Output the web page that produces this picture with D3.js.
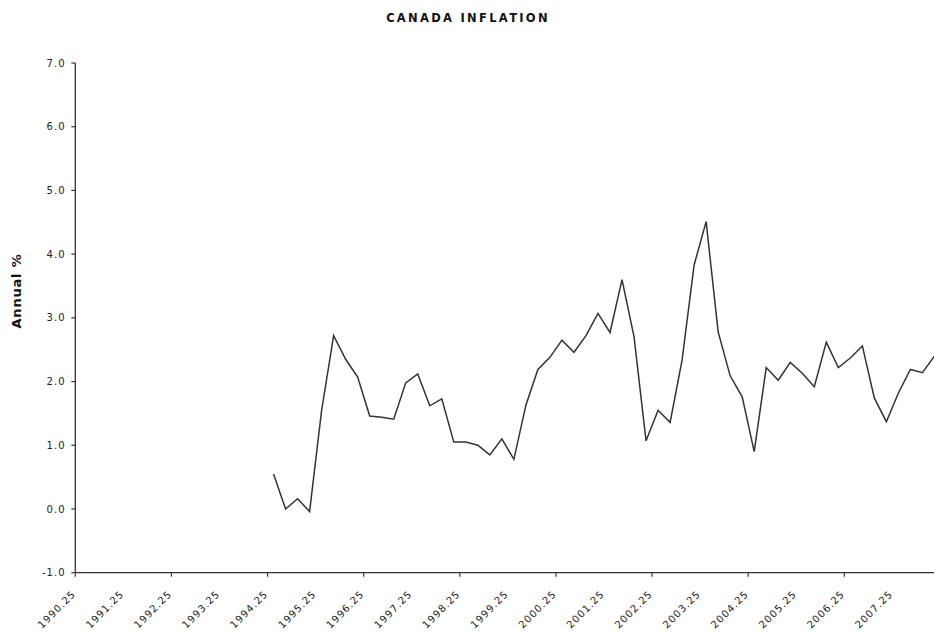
<!DOCTYPE html>
<html>
<head>
<meta charset="utf-8">
<script src="https://cdn.jsdelivr.net/npm/d3@7"></script>
<style>
  html, body { margin: 0; padding: 0; background: #fff; }
  svg { display: block; font-family: "DejaVu Sans", Verdana, sans-serif; }
</style>
</head>
<body>
<svg id="chart" width="934" height="635"></svg>
<script>
const title = "CANADA INFLATION";
const yTitle = "Annual %";

const categories = [
  "1990.25","1990.50","1990.75","1991.00","1991.25","1991.50","1991.75","1992.00",
  "1992.25","1992.50","1992.75","1993.00","1993.25","1993.50","1993.75","1994.00",
  "1994.25","1994.50","1994.75","1995.00","1995.25","1995.50","1995.75","1996.00",
  "1996.25","1996.50","1996.75","1997.00","1997.25","1997.50","1997.75","1998.00",
  "1998.25","1998.50","1998.75","1999.00","1999.25","1999.50","1999.75","2000.00",
  "2000.25","2000.50","2000.75","2001.00","2001.25","2001.50","2001.75","2002.00",
  "2002.25","2002.50","2002.75","2003.00","2003.25","2003.50","2003.75","2004.00",
  "2004.25","2004.50","2004.75","2005.00","2005.25","2005.50","2005.75","2006.00",
  "2006.25","2006.50","2006.75","2007.00","2007.25","2007.50","2007.75","2008.00"
];

const inflation = [
  null, null, null, null, null, null, null, null,
  null, null, null, null, null, null, null, null,
  0.55, 0.00, 0.16, -0.04, 1.55, 2.72, 2.35, 2.07,
  1.46, 1.44, 1.41, 1.98, 2.12, 1.62, 1.73, 1.05,
  1.05, 1.00, 0.85, 1.10, 0.78, 1.63, 2.19, 2.38,
  2.65, 2.46, 2.72, 3.07, 2.77, 3.60, 2.70, 1.07,
  1.55, 1.36, 2.34, 3.83, 4.51, 2.78, 2.09, 1.76,
  0.90, 2.22, 2.02, 2.30, 2.13, 1.92, 2.62, 2.22,
  2.37, 2.56, 1.74, 1.37, 1.82, 2.19, 2.14, 2.40
];

const yTicks = [-1, 0, 1, 2, 3, 4, 5, 6, 7];
const labelEvery = 4;
const tickEvery = 8;

const svg = d3.select("#chart");
const plotLeft = 75.3, plotTop = 63, plotBottom = 572.7;
const step = 12.016;

const x = d3.scaleBand().domain(categories).range([plotLeft, plotLeft + categories.length * step]).padding(0);
const y = d3.scaleLinear().domain([-1, 7]).range([plotBottom, plotTop]);

const ink = "#333333";

// Title
svg.append("text")
  .attr("x", 468).attr("y", 22)
  .attr("text-anchor", "middle")
  .attr("font-size", "11.5px").attr("font-weight", "bold")
  .attr("letter-spacing", "2.3px")
  .attr("fill", "#111")
  .text(title);

// Y axis title
svg.append("text")
  .attr("transform", "translate(21,291) rotate(-90)")
  .attr("text-anchor", "middle")
  .attr("font-size", "13px").attr("font-weight", "bold")
  .attr("letter-spacing", "0.8px")
  .attr("fill", "#111")
  .text(yTitle);

// Y axis
const yAxis = svg.append("g");
yAxis.append("line")
  .attr("x1", plotLeft).attr("x2", plotLeft)
  .attr("y1", y(7)).attr("y2", y(-1))
  .attr("stroke", ink).attr("stroke-width", 1.3);
yAxis.selectAll("line.tick").data(yTicks).enter().append("line")
  .attr("class", "tick")
  .attr("x1", plotLeft - 4).attr("x2", plotLeft)
  .attr("y1", d => y(d)).attr("y2", d => y(d))
  .attr("stroke", ink).attr("stroke-width", 1.2);
yAxis.selectAll("text").data(yTicks).enter().append("text")
  .attr("x", 65.5).attr("y", d => y(d)).attr("dy", "0.36em")
  .attr("text-anchor", "end")
  .attr("font-size", "10px").attr("letter-spacing", "1px")
  .attr("fill", "#222")
  .text(d => d.toFixed(1));

// X axis
const xAxis = svg.append("g");
xAxis.append("line")
  .attr("x1", plotLeft).attr("x2", plotLeft + categories.length * step)
  .attr("y1", plotBottom).attr("y2", plotBottom)
  .attr("stroke", ink).attr("stroke-width", 1.3);
const tickCats = categories.filter((c, i) => i % tickEvery === 0);
xAxis.selectAll("line.tick").data(tickCats).enter().append("line")
  .attr("class", "tick")
  .attr("x1", d => x(d)).attr("x2", d => x(d))
  .attr("y1", plotBottom).attr("y2", plotBottom + 4)
  .attr("stroke", ink).attr("stroke-width", 1.2);
const labelCats = categories.filter((c, i) => i % labelEvery === 0);
xAxis.selectAll("text").data(labelCats).enter().append("text")
  .attr("transform", d => "translate(" + (x(d) + x.bandwidth() / 2 - 5) + "," + (plotBottom + 22) + ") rotate(-45)")
  .attr("text-anchor", "end")
  .attr("font-size", "10px").attr("letter-spacing", "1px")
  .attr("fill", "#222")
  .text(d => d);

// Line
const pts = categories.map((c, i) => ({ c, v: inflation[i] }));
const line = d3.line()
  .defined(d => d.v !== null)
  .x(d => x(d.c) + x.bandwidth() / 2)
  .y(d => y(d.v));
svg.append("path")
  .datum(pts)
  .attr("d", line)
  .attr("fill", "none")
  .attr("stroke", "#333")
  .attr("stroke-width", 1.5)
  .attr("stroke-linejoin", "miter");
</script>
</body>
</html>
